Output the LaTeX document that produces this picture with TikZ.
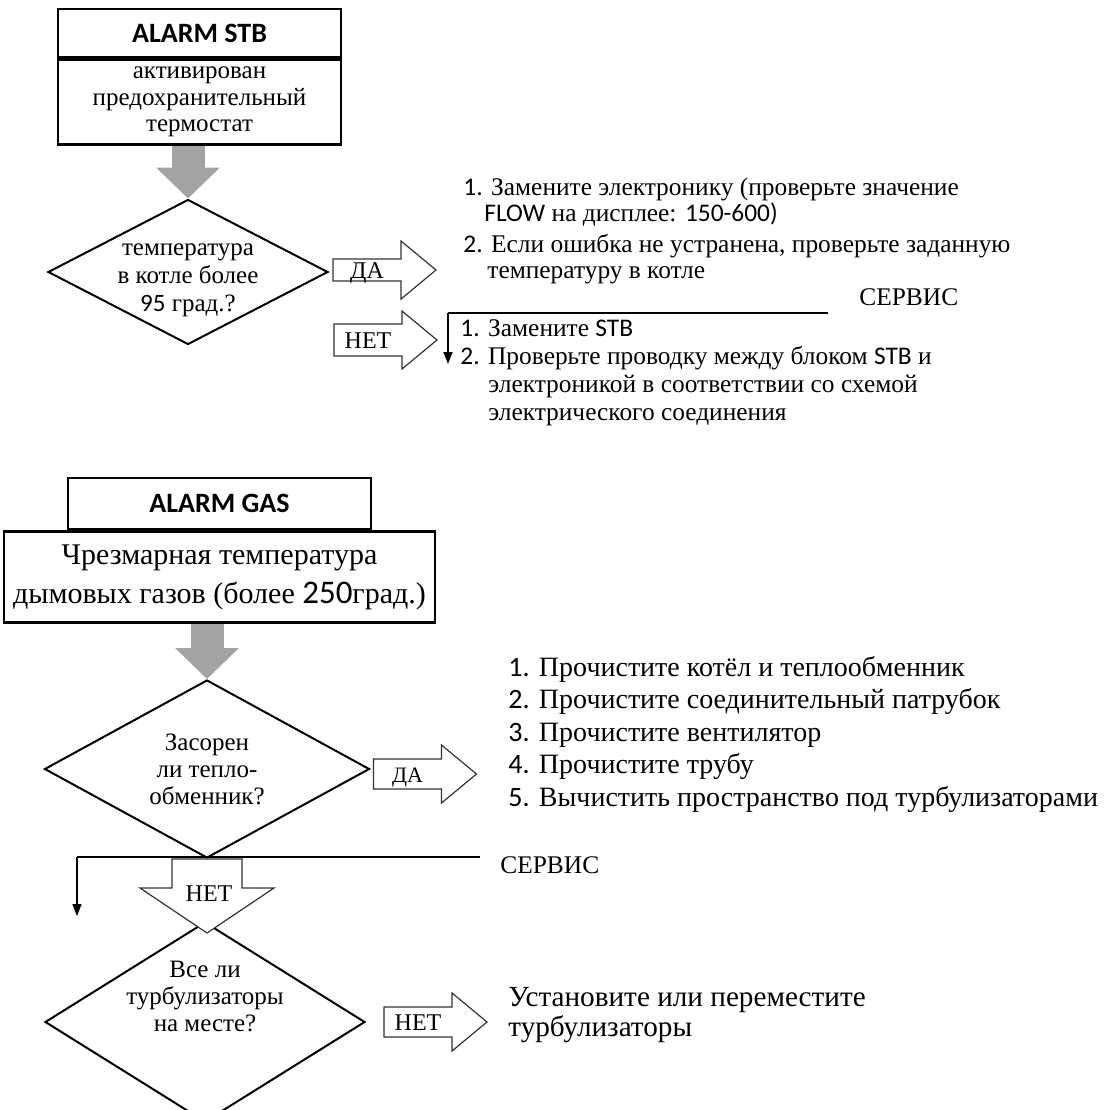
\documentclass[tikz,border=0pt]{standalone}
\usepackage{fontspec}
\setmainfont{Liberation Serif}
\newfontfamily\calfont{Carlito}
\usetikzlibrary{shapes.geometric,arrows.meta,calc,positioning}

\tikzset{
  tsTitle/.style={font=\calfont\bfseries\fontsize{14}{16}\selectfont},
  tsBox/.style={rectangle, draw=black, line width=1.2pt, fill=white, inner sep=0pt},
  tsText/.style={font=\fontsize{12.5}{13.5}\selectfont, inner sep=0pt},
  tsSteps/.style={font=\fontsize{12.7}{14}\selectfont, inner sep=0pt, anchor=base west},
  tsList/.style={font=\fontsize{14}{16}\selectfont, inner sep=0pt, anchor=base west},
  tsDecision/.style={diamond, draw=black, line width=1pt, inner sep=0pt},
  tsLabel/.style={font=\fontsize{12}{14}\selectfont, inner sep=0pt, anchor=base},
  tsFlow/.style={line width=16.5pt, draw=black!36, -{Triangle[width=31pt,length=15.5pt]}},
  tsBlk/.style={draw=black!80, line width=0.6pt, fill=white, line join=miter},
  tsService/.style={line width=1.2pt},
  tsDown/.style={line width=0.8pt, -{Triangle[length=6pt,width=4.5pt]}},
}

% outlined block arrow: #2 tail point, #3 name, #4 text, #5 half shaft
\newcommand{\yesno}[5][]{%
  \draw[tsBlk] ($#2+(0,-#5)$) -- ($#2+(68,-#5)$) -- ($#2+(68,-29)$) -- ($#2+(103,0)$)
      -- ($#2+(68,29)$) -- ($#2+(68,#5)$) -- ($#2+(0,#5)$) -- cycle;
  \node[tsLabel,#1] (#3) at ($#2+(34,8)$) {#4};
}

\begin{document}
\begin{tikzpicture}[x=0.5pt, y=-0.5pt]
\useasboundingbox (0,0) rectangle (1109,1110);

% ALARM STB
\node[tsBox, tsTitle, minimum width=141.5pt, minimum height=24pt] (stbhead) at (199.5,33) {ALARM STB};
\node[tsBox, tsText, align=center, font=\fontsize{12.5}{13.25}\selectfont,
      minimum width=141.5pt, minimum height=42.5pt, below=0pt of stbhead] (stbbody)
      {активирован\\предохранительный\\термостат};

\node[tsDecision, minimum width=140pt, minimum height=72.5pt] (dia1) at (188,272) {};
\node[tsText, align=center, font=\fontsize{12.5}{14}\selectfont] (dia1txt) at ($(dia1)+(0,8)$)
      {температура\\в котле более\\{\calfont 95} град.?};
\draw[tsFlow] (stbbody.south -| dia1.north) -- (dia1.north);

\coordinate (da1tail) at ($(dia1.east)+(4,-2)$);
\coordinate (net1tail) at ($(dia1.east)+(5,68)$);
\yesno{(da1tail)}{da1}{ДА}{11}
\yesno{(net1tail)}{net1}{НЕТ}{16}

\node[tsSteps] (fix1a) at (463,195) {{\calfont 1.} Замените электронику (проверьте значение};
\node[tsSteps] (fix1b) at (484,221) {{\calfont FLOW} на дисплее: {\calfont 150-600)}};
\node[tsSteps] (fix1c) at (463,252) {{\calfont 2.} Если ошибка не устранена, проверьте заданную};
\node[tsSteps] (fix1d) at (487,278) {температуру в котле};

\coordinate (srv1r) at (828,313);
\coordinate (srv1l) at (448,313);
\coordinate (srv1end) at (448,364);
\draw[tsService] (srv1r) -- (srv1l);
\draw[tsDown] (srv1l) -- (srv1end);
\node[tsSteps] (srv1txt) at (859,305) {СЕРВИС};

\node[tsSteps] (fix2a) at (460,336) {{\calfont 1.} Замените {\calfont STB}};
\node[tsSteps] (fix2b) at (460,364) {{\calfont 2.} Проверьте проводку между блоком {\calfont STB} и};
\node[tsSteps] (fix2c) at (488,392) {электроникой в соответствии со схемой};
\node[tsSteps] (fix2d) at (488,420) {электрического соединения};

% ALARM GAS
\node[tsBox, tsTitle, minimum width=151.5pt, minimum height=25.5pt] (gashead) at (219.5,503.5) {ALARM GAS};
\node[tsBox, align=center, font=\fontsize{15}{19.5}\selectfont,
      minimum width=215.5pt, minimum height=45.5pt, below=0pt of gashead] (gasbody)
      {Чрезмарная температура\\дымовых газов (более {\calfont\fontsize{16.5}{19.5}\selectfont 250}град.)};

\node[tsDecision, minimum width=162.5pt, minimum height=89pt] (dia2) at (207,769) {};
\node[tsText, align=center] (dia2txt) at (dia2) {Засорен\\ ли тепло-\\обменник?};
\draw[tsFlow] (gasbody.south -| dia2.north) -- (dia2.north);

\coordinate (da2tail) at ($(dia2.east)+(3,5)$);
\yesno[font=\fontsize{11}{13}\selectfont]{(da2tail)}{da2}{ДА}{15}

\node[tsList] (clean1) at (508,676) {{\calfont 1.} Прочистите котёл и теплообменник};
\node[tsList] (clean2) at (508,708.5) {{\calfont 2.} Прочистите соединительный патрубок};
\node[tsList] (clean3) at (508,741) {{\calfont 3.} Прочистите вентилятор};
\node[tsList] (clean4) at (508,773.5) {{\calfont 4.} Прочистите трубу};
\node[tsList] (clean5) at (508,806) {{\calfont 5.} Вычистить пространство под турбулизаторами};

\node[tsDecision, minimum width=160pt, minimum height=100pt] (dia3) at (205,1022) {};
\node[tsText, align=center] (dia3txt) at ($(dia3)+(0,-26)$) {Все ли\\турбулизаторы\\на месте?};

\coordinate (srv2r) at (480,857);
\coordinate (srv2l) at (77,857);
\coordinate (srv2end) at (77,916);
\draw[tsService] (srv2r) -- (srv2l);
\draw[tsDown] (srv2l) -- (srv2end);
\node[tsSteps] (srv2txt) at (500,873) {СЕРВИС};

% НЕТ down
\coordinate (net2tip) at ($(dia2.south |- dia3.north)+(0,12)$);
\draw[tsBlk] ($(dia2.south)+(-35,0)$) -- ++(0,29) -- ++(-32,0) -- (net2tip)
    -- ($(dia2.south)+(67,29)$) -- ++(-32,0) -- ++(0,-29) -- cycle;
\node[tsLabel] (net2) at ($(dia2.south)+(2,42)$) {НЕТ};

\coordinate (net3tail) at ($(dia3.east)+(18,0)$);
\yesno{(net3tail)}{net3}{НЕТ}{15}

\node[tsList, font=\fontsize{14.6}{17}\selectfont] (fix3a) at (508,1006) {Установите или переместите};
\node[tsList, font=\fontsize{14.6}{17}\selectfont] (fix3b) at (508,1036) {турбулизаторы};

\end{tikzpicture}
\end{document}
